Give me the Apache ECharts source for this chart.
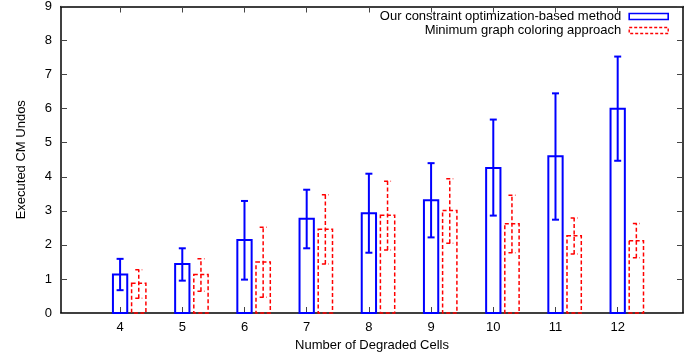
<!DOCTYPE html>
<html>
<head>
<meta charset="utf-8">
<script src="https://cdn.jsdelivr.net/npm/echarts@6/dist/echarts.min.js"></script>
<style>
html,body{margin:0;padding:0;background:#fff;}
#chart{width:700px;height:360px;}
</style>
</head>
<body>
<div id="chart"></div>
<script>
var categories = [4, 5, 6, 7, 8, 9, 10, 11, 12];
var yTicks = [0, 1, 2, 3, 4, 5, 6, 7, 8, 9];
var ourMean = [1.13, 1.44, 2.14, 2.77, 2.93, 3.31, 4.26, 4.60, 6.00];
var ourLow  = [0.67, 0.95, 0.98, 1.90, 1.77, 2.22, 2.86, 2.74, 4.47];
var ourHigh = [1.59, 1.90, 3.29, 3.62, 4.09, 4.40, 5.68, 6.45, 7.53];
var mgcMean = [0.87, 1.13, 1.50, 2.46, 2.87, 3.01, 2.62, 2.27, 2.12];
var mgcLow  = [0.43, 0.64, 0.46, 1.44, 1.85, 2.05, 1.77, 1.73, 1.62];
var mgcHigh = [1.27, 1.59, 2.52, 3.47, 3.87, 3.94, 3.46, 2.79, 2.63];
var seriesNames = ['Our constraint optimization-based method', 'Minimum graph coloring approach'];

var FONT = '"Liberation Sans", Arial, Helvetica, sans-serif';
var BAR_W = 0.23;

function makeSeries(name, means, lows, highs, offset, color, lw, dash) {
  var data = categories.map(function (c, i) { return [c, means[i], lows[i], highs[i]]; });
  return {
    type: 'custom',
    name: name,
    xAxisIndex: 0,
    yAxisIndex: 0,
    data: data,
    encode: { x: 0, y: [1, 2, 3] },
    itemStyle: { color: color },
    z: 5,
    renderItem: function (params, api) {
      var x = api.value(0) + offset;
      var m = api.value(1), lo = api.value(2), hi = api.value(3);
      var p1 = api.coord([x - BAR_W / 2, m]);
      var p2 = api.coord([x + BAR_W / 2, 0]);
      var pc = api.coord([x, 0]);
      var pl = api.coord([x, lo]);
      var ph = api.coord([x, hi]);
      var cap = 3.5;
      var st = { fill: null, stroke: color, lineWidth: lw, lineDash: dash };
      return {
        type: 'group',
        children: [
          { type: 'rect', shape: { x: p1[0], y: p1[1], width: p2[0] - p1[0], height: p2[1] - p1[1] }, style: st },
          { type: 'line', shape: { x1: pc[0], y1: pl[1], x2: pc[0], y2: ph[1] }, style: st },
          { type: 'line', shape: { x1: pc[0] - cap, y1: pl[1], x2: pc[0] + cap, y2: pl[1] }, style: st },
          { type: 'line', shape: { x1: pc[0] - cap, y1: ph[1], x2: pc[0] + cap, y2: ph[1] }, style: st }
        ]
      };
    }
  };
}

var chart = echarts.init(document.getElementById('chart'), null, { renderer: 'canvas' });
var tickStyle = { color: '#444', width: 1 };
var option = {
  animation: false,
  backgroundColor: '#fff',
  textStyle: { fontFamily: FONT },
  grid: { left: 61, right: 17, top: 2, bottom: 47, containLabel: false },
  legend: {
    orient: 'vertical',
    align: 'right',
    right: 26,
    top: 5,
    itemWidth: 39,
    itemHeight: 6,
    itemGap: 1,
    textStyle: { fontSize: 13, color: '#000', fontFamily: FONT, lineHeight: 13, padding: [0, 3, 0, 0] },
    data: [
      { name: seriesNames[0], icon: 'rect', itemStyle: { color: 'rgba(0,0,0,0)', borderColor: '#0000ff', borderWidth: 1.6, borderType: 'solid' } },
      { name: seriesNames[1], icon: 'rect', itemStyle: { color: 'rgba(0,0,0,0)', borderColor: '#ff0000', borderWidth: 1.4, borderType: [3, 2] } }
    ]
  },
  xAxis: [
    {
      type: 'value', position: 'bottom', min: 3.05, max: 13.05,
      name: 'Number of Degraded Cells', nameLocation: 'middle', nameGap: 24,
      nameTextStyle: { fontSize: 13, color: '#000', fontFamily: FONT },
      axisLine: { show: true, onZero: false, lineStyle: { color: '#000', width: 1.5 } },
      axisTick: { show: true, inside: true, length: 6, customValues: categories, lineStyle: tickStyle },
      axisLabel: { show: true, customValues: categories, fontSize: 13, color: '#000', margin: 8, fontFamily: FONT },
      splitLine: { show: false }
    },
    {
      type: 'value', position: 'top', min: 3.05, max: 13.05,
      axisLine: { show: true, onZero: false, lineStyle: { color: '#000', width: 1.5 } },
      axisTick: { show: true, inside: true, length: 6, customValues: categories, lineStyle: tickStyle },
      axisLabel: { show: false },
      splitLine: { show: false }
    }
  ],
  yAxis: [
    {
      type: 'value', position: 'left', min: 0, max: 9, interval: 1,
      name: 'Executed CM Undos', nameLocation: 'middle', nameGap: 33, nameRotate: 90,
      nameTextStyle: { fontSize: 13, color: '#000', fontFamily: FONT },
      axisLine: { show: true, onZero: false, lineStyle: { color: '#000', width: 1.5 } },
      axisTick: { show: true, inside: true, length: 6, customValues: yTicks, lineStyle: tickStyle },
      axisLabel: { show: true, customValues: yTicks, fontSize: 13, color: '#000', margin: 9, fontFamily: FONT },
      splitLine: { show: false }
    },
    {
      type: 'value', position: 'right', min: 0, max: 9, interval: 1,
      axisLine: { show: true, onZero: false, lineStyle: { color: '#000', width: 1.5 } },
      axisTick: { show: true, inside: true, length: 6, customValues: yTicks, lineStyle: tickStyle },
      axisLabel: { show: false },
      splitLine: { show: false }
    }
  ],
  series: [
    makeSeries(seriesNames[0], ourMean, ourLow, ourHigh, 0, '#0000ff', 2, null),
    makeSeries(seriesNames[1], mgcMean, mgcLow, mgcHigh, 0.3, '#ff0000', 1.5, [4, 2.5])
  ]
};
chart.setOption(option);
</script>
</body>
</html>
